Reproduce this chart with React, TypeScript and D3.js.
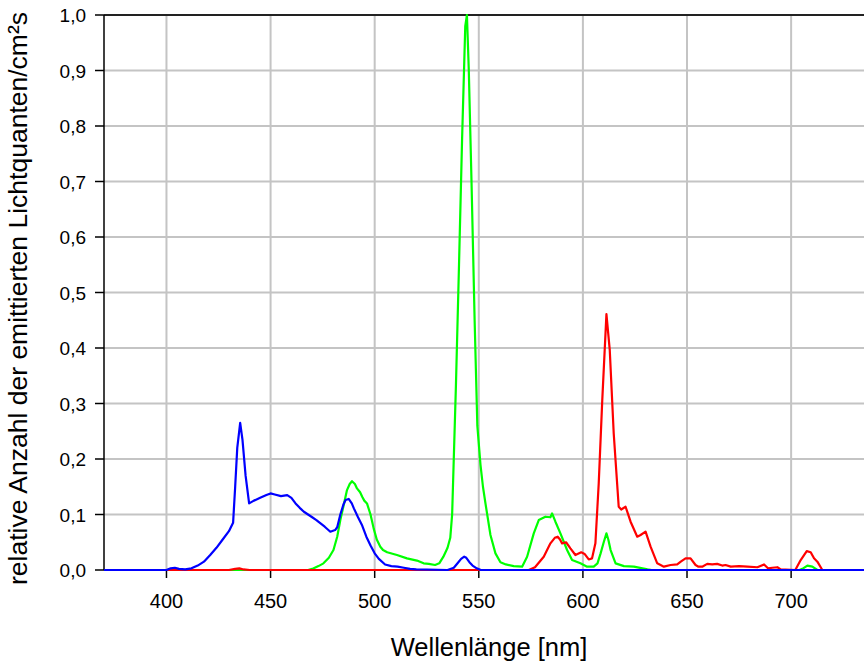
import React from 'react';
import * as d3 from 'd3';

// wavelength [nm] / relative value pairs
const blueNm = [370, 400, 402, 404, 406, 409, 412, 415, 418, 421, 424, 427, 430, 432, 433, 434, 435.4, 436.5, 438, 439.7, 442, 445, 448, 450, 452, 455, 458, 460, 462, 464, 466, 468, 470, 472, 474, 476, 478.7, 481, 482, 483.5, 485, 486, 487.5, 489, 490, 492, 494, 496, 498, 500, 502, 505, 508, 511, 514, 517, 520, 535, 538, 540, 541.5, 543, 544, 545.5, 547, 549, 551, 735];
const blueVal = [0, 0, 0.003, 0.004, 0.002, 0.001, 0.003, 0.008, 0.015, 0.027, 0.04, 0.055, 0.07, 0.085, 0.15, 0.22, 0.265, 0.235, 0.17, 0.12, 0.125, 0.13, 0.135, 0.138, 0.136, 0.133, 0.135, 0.13, 0.12, 0.112, 0.105, 0.1, 0.095, 0.09, 0.084, 0.078, 0.069, 0.072, 0.077, 0.1, 0.118, 0.126, 0.128, 0.12, 0.111, 0.095, 0.08, 0.06, 0.044, 0.03, 0.02, 0.01, 0.007, 0.006, 0.004, 0.002, 0.001, 0, 0.004, 0.013, 0.02, 0.024, 0.022, 0.014, 0.008, 0.003, 0, 0];

const greenNm = [370, 468, 470, 473, 475.4, 478, 480.2, 482, 483.5, 485, 486.7, 488, 489.1, 490.5, 491.5, 493, 494, 495, 496.3, 498, 499.5, 501, 502.7, 504, 506, 510.7, 515.5, 520.3, 523.5, 526, 529, 531, 533, 535, 536.3, 537.2, 539, 540.5, 542, 543.5, 544.3, 545.2, 546.5, 548, 549.3, 550.8, 552, 553.2, 555.6, 558, 560.4, 563, 566.8, 570.8, 573.2, 576.4, 578.8, 582, 584.4, 585.2, 586.8, 589.2, 592.4, 594.8, 598.8, 602, 605.2, 607, 608.5, 610, 611.3, 612.2, 613.3, 615.7, 619.7, 624.5, 631, 633, 704, 705.4, 707.8, 710.2, 712.6, 735];
const greenVal = [0, 0, 0.002, 0.007, 0.012, 0.022, 0.036, 0.06, 0.09, 0.115, 0.144, 0.155, 0.16, 0.155, 0.147, 0.14, 0.132, 0.125, 0.12, 0.1, 0.075, 0.055, 0.042, 0.036, 0.032, 0.027, 0.021, 0.017, 0.012, 0.011, 0.009, 0.012, 0.024, 0.04, 0.058, 0.1, 0.33, 0.55, 0.78, 0.98, 1.0, 0.9, 0.7, 0.45, 0.26, 0.19, 0.15, 0.12, 0.063, 0.03, 0.014, 0.01, 0.007, 0.006, 0.024, 0.066, 0.09, 0.096, 0.095, 0.102, 0.087, 0.066, 0.036, 0.018, 0.012, 0.006, 0.006, 0.012, 0.03, 0.05, 0.066, 0.055, 0.036, 0.012, 0.007, 0.006, 0.001, 0, 0, 0.002, 0.008, 0.006, 0, 0];

const redNm = [370, 430, 433, 435, 437, 440, 574, 577, 581.2, 584.4, 586.5, 587.9, 589, 590, 591.9, 594, 596.4, 599.2, 600.8, 602.8, 604.4, 606, 607.6, 609.3, 611.3, 612.9, 614.8, 617.2, 618.4, 620.5, 622.9, 626.1, 627.7, 630.1, 632.5, 635.7, 638.9, 642.1, 645.3, 647, 649.3, 651.7, 654.1, 655.5, 657.3, 659.7, 662.1, 664.5, 666.9, 668.5, 671, 675, 679, 683.8, 687, 688.9, 691, 693.4, 695, 702, 704.6, 707.5, 709.4, 711, 712.6, 715, 735];
const redVal = [0, 0, 0.002, 0.003, 0.001, 0, 0, 0.005, 0.024, 0.048, 0.058, 0.06, 0.055, 0.048, 0.05, 0.039, 0.027, 0.032, 0.029, 0.019, 0.021, 0.048, 0.156, 0.306, 0.461, 0.396, 0.246, 0.114, 0.109, 0.114, 0.087, 0.06, 0.063, 0.069, 0.042, 0.012, 0.006, 0.009, 0.01, 0.015, 0.021, 0.021, 0.009, 0.006, 0.006, 0.011, 0.01, 0.011, 0.008, 0.009, 0.006, 0.007, 0.006, 0.005, 0.01, 0.003, 0.004, 0.005, 0.001, 0, 0.018, 0.034, 0.032, 0.021, 0.015, 0, 0];

const xTicks = [400, 450, 500, 550, 600, 650, 700];
const yTicks = [0, 0.1, 0.2, 0.3, 0.4, 0.5, 0.6, 0.7, 0.8, 0.9, 1.0];

const W = 864;
const H = 664;
const left = 104;
const right = 864;
const top = 15;
const bottom = 570;
const font = '"Liberation Sans", Arial, Helvetica, sans-serif';

export default function App() {
  const x = d3.scaleLinear().domain([370, 735]).range([left, right]);
  const y = d3.scaleLinear().domain([0, 1]).range([bottom, top]);

  const line = d3.line<[number, number]>()
    .x(d => x(d[0]))
    .y(d => y(d[1]));

  const series = [
    { color: '#00ff00', nm: greenNm, val: greenVal },
    { color: '#ff0000', nm: redNm, val: redVal },
    { color: '#0000ff', nm: blueNm, val: blueVal },
  ];

  const fmt = (v: number) => v.toFixed(1).replace('.', ',');

  return (
    <svg width={W} height={H} style={{ position: 'absolute', left: 0, top: 0, background: '#fff' }}>
      {/* grid */}
      {xTicks.map(t => (
        <line key={'gx' + t} x1={x(t)} x2={x(t)} y1={top} y2={bottom} stroke="#c4c4c4" strokeWidth={2} />
      ))}
      {yTicks.filter(t => t > 0 && t < 1).map(t => (
        <line key={'gy' + t} x1={left} x2={right} y1={y(t)} y2={y(t)} stroke="#c4c4c4" strokeWidth={2} />
      ))}

      {/* axes */}
      <line x1={left} x2={right} y1={top} y2={top} stroke="#222" strokeWidth={2} />
      <line x1={left} x2={right} y1={bottom} y2={bottom} stroke="#000" strokeWidth={1.5} />
      <line x1={left} x2={left} y1={top} y2={bottom} stroke="#000" strokeWidth={1.5} />
      {yTicks.map(t => (
        <g key={'ty' + t}>
          <line x1={left - 9} x2={left} y1={y(t)} y2={y(t)} stroke="#000" strokeWidth={1.5} />
          <text x={86} y={y(t) + 7} textAnchor="end" fontFamily={font} fontSize={19} fill="#000">{fmt(t)}</text>
        </g>
      ))}
      {xTicks.map(t => (
        <g key={'tx' + t}>
          <line x1={x(t)} x2={x(t)} y1={bottom} y2={bottom + 8} stroke="#000" strokeWidth={1.5} />
          <text x={x(t)} y={608} textAnchor="middle" fontFamily={font} fontSize={20} fill="#000">{t}</text>
        </g>
      ))}

      {/* series */}
      {series.map(s => (
        <path key={s.color} d={line(s.nm.map((n, i) => [n, s.val[i]] as [number, number])) || ''}
          fill="none" stroke={s.color} strokeWidth={2.2} strokeLinejoin="round" />
      ))}

      {/* titles */}
      <text x={489} y={656} textAnchor="middle" fontFamily={font} fontSize={25.5} fill="#000">Wellenlänge [nm]</text>
      <text transform={`translate(27,${(top + bottom) / 2 + 6}) rotate(-90)`} textAnchor="middle" fontFamily={font} fontSize={26.5} fill="#000">
        relative Anzahl der emittierten Lichtquanten/cm²s
      </text>
    </svg>
  );
}
